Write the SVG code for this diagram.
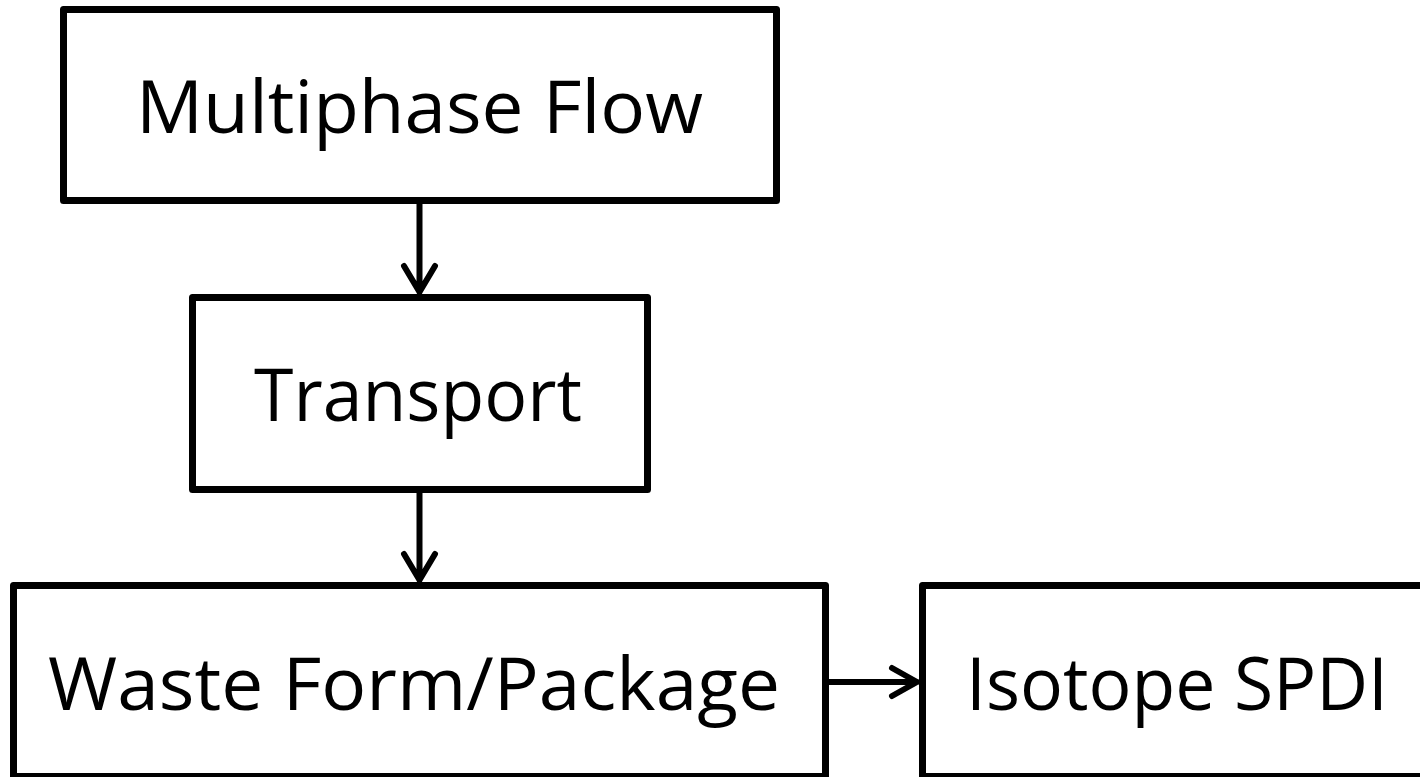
<svg xmlns="http://www.w3.org/2000/svg" width="1420" height="777" viewBox="0 0 1420 777">
<defs>
<style>
.box{fill:#fff;stroke:#000;stroke-width:7;stroke-linejoin:round}
.lbl{font-family:"Open Sans","Liberation Sans",sans-serif;font-size:74px;fill:#000}
.con{fill:none;stroke:#000;stroke-width:6;stroke-linecap:round;stroke-linejoin:round}
</style>
</defs>
<rect width="1420" height="777" fill="#fff"/>
<g id="n1"><rect class="box" x="63.5" y="9.5" width="713" height="191"/><text class="lbl" x="136" y="133" textLength="567" lengthAdjust="spacingAndGlyphs">Multiphase Flow</text></g>
<g id="n2"><rect class="box" x="192.5" y="297.5" width="455" height="192"/><text class="lbl" x="254" y="421" textLength="328" lengthAdjust="spacingAndGlyphs">Transport</text></g>
<g id="n3"><rect class="box" x="13.5" y="585.5" width="812" height="191"/><text class="lbl" x="48" y="710" textLength="732" lengthAdjust="spacingAndGlyphs">Waste Form/Package</text></g>
<g id="n4"><rect class="box" x="922.5" y="585.5" width="520" height="191"/><text class="lbl" x="966" y="710" textLength="422" lengthAdjust="spacingAndGlyphs">Isotope SPDI</text></g>
<g id="connectors">
<path class="con" d="M419.5 204 V292 M404 266 L419.5 292 L435 266"/>
<path class="con" d="M419.5 493 V580 M404 554 L419.5 580 L435 554"/>
<path class="con" d="M829 682 H917 M892 668 L917 682 L892 696"/>
</g>
</svg>
